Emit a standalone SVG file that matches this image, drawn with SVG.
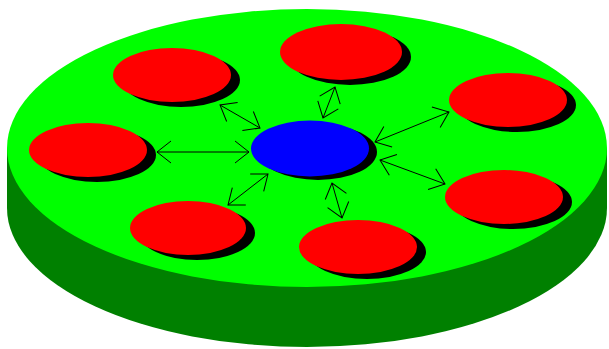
<svg xmlns="http://www.w3.org/2000/svg" width="609" height="349" viewBox="0 0 609 349">
  <style>
    .side { fill: #008000; }
    .top { fill: #00ff00; }
    .shadow { fill: #000000; }
    .red { fill: #ff0000; }
    .blue { fill: #0000ff; }
    .conn { stroke: #000000; stroke-width: 1; fill: none; marker-start: url(#ah); marker-end: url(#ah); }
  </style>
  <defs>
    <marker id="ah" viewBox="0 0 40 40" refX="20" refY="20" markerWidth="40" markerHeight="40" markerUnits="userSpaceOnUse" orient="auto-start-reverse">
      <path d="M6,9 L20,20 L6,31" fill="none" stroke="#000000" stroke-width="1"/>
    </marker>
  </defs>
  <rect width="609" height="349" fill="#ffffff"/>
  <g id="disc">
    <ellipse class="side" cx="307" cy="208" rx="300" ry="139"/>
    <rect class="side" x="7" y="148" width="600" height="60"/>
    <ellipse class="top" cx="307" cy="148" rx="300" ry="139"/>
  </g>
  <g id="connectors">
    <line class="conn" x1="220" y1="105" x2="260" y2="128"/>
    <line class="conn" x1="157" y1="152" x2="249" y2="152"/>
    <line class="conn" x1="335" y1="87" x2="323" y2="118"/>
    <line class="conn" x1="449" y1="112" x2="375" y2="142"/>
    <line class="conn" x1="380" y1="160" x2="445" y2="184"/>
    <line class="conn" x1="332" y1="183" x2="342" y2="218"/>
    <line class="conn" x1="228" y1="205" x2="268" y2="174"/>
  </g>
  <g id="node-top-left">
    <ellipse class="shadow" cx="181" cy="80" rx="59" ry="27"/>
    <ellipse class="red" cx="172" cy="75" rx="59" ry="27"/>
  </g>
  <g id="node-top">
    <ellipse class="shadow" cx="350" cy="57" rx="61" ry="28"/>
    <ellipse class="red" cx="341" cy="52" rx="61" ry="28"/>
  </g>
  <g id="node-right-upper">
    <ellipse class="shadow" cx="517" cy="105" rx="59" ry="27"/>
    <ellipse class="red" cx="508" cy="100" rx="59" ry="27"/>
  </g>
  <g id="node-left">
    <ellipse class="shadow" cx="97" cy="155" rx="59" ry="27"/>
    <ellipse class="red" cx="88" cy="150" rx="59" ry="27"/>
  </g>
  <g id="node-center">
    <ellipse class="shadow" cx="318" cy="152" rx="59" ry="28"/>
    <ellipse class="blue" cx="310" cy="148.5" rx="59" ry="28"/>
  </g>
  <g id="node-right-lower">
    <ellipse class="shadow" cx="513" cy="202" rx="59" ry="27"/>
    <ellipse class="red" cx="504" cy="197" rx="59" ry="27"/>
  </g>
  <g id="node-lower-left">
    <ellipse class="shadow" cx="197" cy="233" rx="58" ry="27"/>
    <ellipse class="red" cx="188" cy="228" rx="58" ry="27"/>
  </g>
  <g id="node-bottom">
    <ellipse class="shadow" cx="367" cy="252" rx="59" ry="27"/>
    <ellipse class="red" cx="358" cy="247" rx="59" ry="27"/>
  </g>
</svg>
